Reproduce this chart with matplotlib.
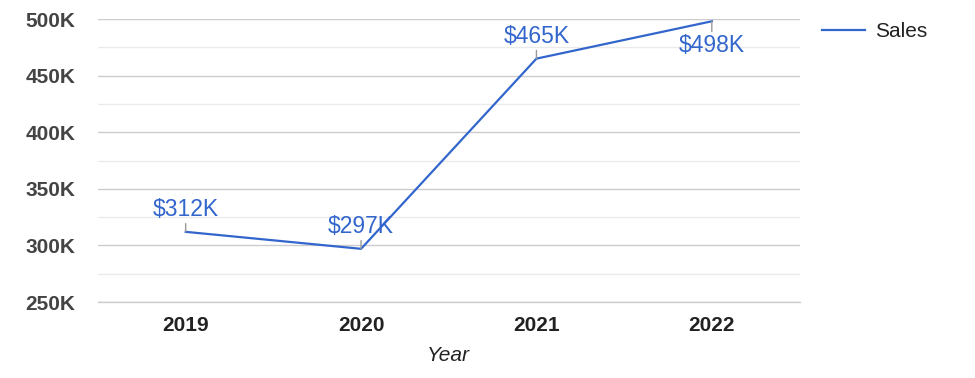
import matplotlib.pyplot as plt
from matplotlib.ticker import MultipleLocator, FuncFormatter

plt.rcParams['font.family'] = ['Liberation Sans', 'DejaVu Sans']

# Datos
years = ["2019", "2020", "2021", "2022"]
sales_k = [312, 297, 465, 498]
labels = ["$312K", "$297K", "$465K", "$498K"]
label_below = [False, False, False, True]

blue = "#3366cc"

fig = plt.figure(figsize=(9.75, 3.78), dpi=100)
ax = fig.add_axes([0.1005, 0.201, 0.7195, 0.7487])

x = list(range(len(years)))
ax.plot(x, sales_k, color=blue, lw=1.6, label="Sales", zorder=3, solid_joinstyle="miter")

for xi, v, lab, below in zip(x, sales_k, labels, label_below):
    if below:
        off, va, rel = (0, -13), "top", (0.5, 1)
    else:
        off, va, rel = (0, 16), "baseline", (0.5, 0)
    ax.annotate(lab, (xi, v), xytext=off, textcoords="offset pixels",
                ha="center", va=va, color=blue, fontsize=16.5,
                arrowprops=dict(arrowstyle="-", color="#999999", lw=1,
                                shrinkA=0, shrinkB=0, relpos=rel), zorder=4)

ax.set_xlim(-0.5, 3.5)
ax.set_ylim(250, 500)
ax.set_xticks(x)
ax.set_xticklabels(years)
ax.yaxis.set_major_locator(MultipleLocator(50))
ax.yaxis.set_minor_locator(MultipleLocator(25))
ax.yaxis.set_major_formatter(FuncFormatter(lambda v, p: f"{int(v)}K"))

ax.grid(True, which="major", axis="y", color="#cccccc", lw=1)
ax.grid(True, which="minor", axis="y", color="#ebebeb", lw=1)
ax.axhline(250, color="#cccccc", lw=1, clip_on=False, zorder=1)
ax.set_axisbelow(True)
for s in ax.spines.values():
    s.set_visible(False)

ax.tick_params(axis="both", which="both", length=0)
ax.tick_params(axis="y", pad=16.5, labelsize=15, labelcolor="#444444")
ax.tick_params(axis="x", pad=10, labelsize=15, labelcolor="#222222")
for t in ax.get_yticklabels() + ax.get_xticklabels():
    t.set_fontweight("bold")

ax.set_xlabel("Year", fontsize=15, style="italic", color="#222222", labelpad=8)

fig.legend(loc="upper left", bbox_to_anchor=(0.843, 0.942), frameon=False,
           borderpad=0, borderaxespad=0, fontsize=15, handlelength=2.07,
           handletextpad=0.48, labelcolor="#222222")

plt.savefig("out.png", dpi=100)
